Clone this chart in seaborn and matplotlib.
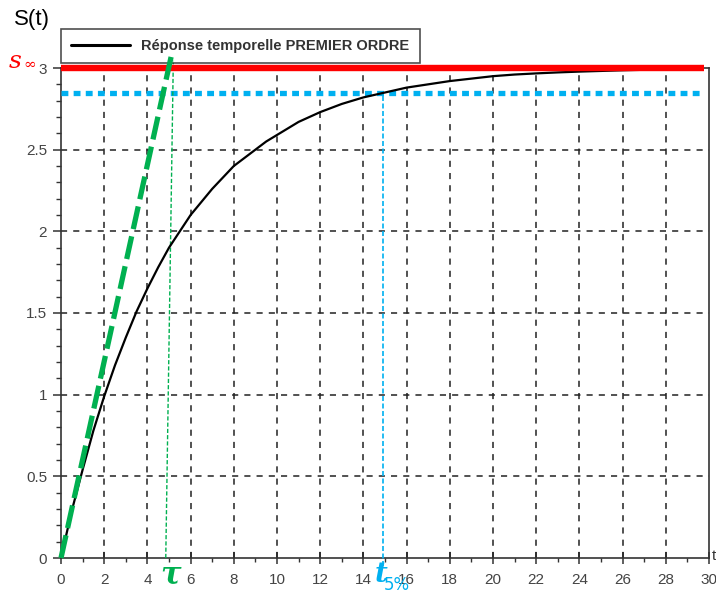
import numpy as np
import pandas as pd
import matplotlib
matplotlib.use("Agg")
import matplotlib.pyplot as plt
import seaborn as sns
from matplotlib.ticker import MultipleLocator

# ---- data ----
t_values = [0, 0.5, 1, 1.5, 2, 2.5, 3, 3.5, 4, 4.5, 5, 5.5, 6, 6.5, 7, 7.5, 8, 8.5,
            9, 9.5, 10, 10.5, 11, 11.5, 12, 12.5, 13, 13.5, 14, 15, 16, 17, 18, 19,
            20, 21, 22, 23, 24, 25, 26, 27, 28, 29, 29.6]
s_values = [0, 0.29, 0.54, 0.78, 0.99, 1.18, 1.35, 1.51, 1.65, 1.78, 1.90, 2.00, 2.10,
            2.18, 2.26, 2.33, 2.40, 2.45, 2.50, 2.55, 2.59, 2.63, 2.67, 2.70, 2.73,
            2.755, 2.78, 2.80, 2.82, 2.85, 2.88, 2.90, 2.92, 2.935, 2.95, 2.96,
            2.967, 2.973, 2.978, 2.982, 2.986, 2.989, 2.991, 2.993, 2.995]
s_inf = 3.0
s_95 = 2.85
tau = 5.0
t5 = 14.9
tangent_t = [0, 5.15]
tangent_s = [0, 3.1]
legend_label = "Réponse temporelle PREMIER ORDRE"
x_ticks = list(range(0, 31, 2))
y_ticks = [0, 0.5, 1, 1.5, 2, 2.5, 3]

df = pd.DataFrame({"t": t_values, "S": s_values})

sns.set_style("white")
plt.rcParams["font.family"] = ["Liberation Sans", "DejaVu Sans"]

W, H = 716, 592
fig = plt.figure(figsize=(W / 100, H / 100), dpi=100)
ax = fig.add_axes([61 / W, (H - 558) / H, 648 / W, 490 / H])

GREEN = "#00B050"
CYAN = "#00B0F0"
RED = "#FF0000"
GREY = "#333333"

ax.set_xlim(0, 30)
ax.set_ylim(0, 3)

# grid
for xv in x_ticks[1:-1]:
    ax.axvline(xv, color="#222222", lw=1.1, dashes=(4, 4), zorder=1)
for yv in y_ticks[1:-1]:
    ax.axhline(yv, color="#222222", lw=1.1, dashes=(4, 4), zorder=1)

# main curve
sns.lineplot(data=df, x="t", y="S", ax=ax, color="black", lw=1.6,
             label=legend_label, zorder=4)

# red asymptote
ax.plot([0, 29.75], [s_inf, s_inf], color=RED, lw=4.6, zorder=5,
        solid_capstyle="butt", clip_on=False)
# cyan 95% line
ax.plot([0, 29.75], [s_95, s_95], color=CYAN, lw=3.8, dashes=(1.3, 1.0), zorder=3)
# cyan vertical t5%
ax.plot([t5, t5], [-0.05, s_95], color=CYAN, lw=1.2, dashes=(3, 1.5),
        zorder=3, clip_on=False)
# green vertical tau
ax.plot([4.85, 5.2], [0, 3.05], color=GREEN, lw=1.0, dashes=(3, 1.5),
        zorder=3, clip_on=False)
# green tangent
ax.plot(tangent_t, tangent_s, color=GREEN, lw=3.8, dashes=(4.4, 1.4),
        zorder=6, clip_on=False, solid_capstyle="butt")

# ticks
ax.set_xticks(x_ticks)
ax.set_yticks(y_ticks)
ax.set_yticklabels(["0", "0.5", "1", "1.5", "2", "2.5", "3"])
ax.xaxis.set_minor_locator(MultipleLocator(1))
ax.yaxis.set_minor_locator(MultipleLocator(0.1))
ax.tick_params(axis="x", which="major", direction="inout", length=9, width=1.1,
               colors=GREY, labelsize=11, pad=6, bottom=True)
ax.tick_params(axis="x", which="minor", direction="out", length=3, width=1.0,
               colors=GREY, bottom=True)
ax.tick_params(axis="y", which="major", direction="out", length=6, width=1.1,
               colors=GREY, labelsize=11, pad=4, left=True)
ax.tick_params(axis="y", which="minor", direction="out", length=3.5, width=1.0,
               colors=GREY, left=True)
for lab in ax.get_xticklabels() + ax.get_yticklabels():
    lab.set_color("#444444")

for sp in ["left", "bottom", "right", "top"]:
    ax.spines[sp].set_color(GREY)
    ax.spines[sp].set_linewidth(1.2)
    ax.spines[sp].set_visible(True)
ax.set_xlabel("")
ax.set_ylabel("")

# legend
leg = ax.legend(loc="lower left", bbox_to_anchor=(0, 1.01), borderaxespad=0,
                frameon=True, fancybox=False, edgecolor="#222222",
                prop={"size": 10.5, "weight": "bold"}, handlelength=4.0,
                borderpad=0.7, handletextpad=0.8)
leg.get_frame().set_linewidth(1.2)
for txt in leg.get_texts():
    txt.set_color("#333333")
leg.get_lines()[0].set_linewidth(2.2)

# annotations
fig.text(14 / W, 1 - 19 / H, "S(t)", fontsize=16, color="black",
         ha="left", va="center")
fig.text(15 / W, 1 - 61 / H, "s", fontsize=18, color=RED, family="DejaVu Serif",
         style="italic", ha="center", va="center")
fig.text(30 / W, 1 - 65 / H, "∞", fontsize=11, color=RED, family="DejaVu Serif",
         ha="center", va="center")
fig.text(712 / W, 1 - 556 / H, "t", fontsize=11, color=GREY,
         ha="left", va="center")
fig.text(170 / W, 1 - 575 / H, "τ", fontsize=22, color=GREEN, family="DejaVu Serif",
         style="italic", weight="bold", ha="center", va="center")
fig.text(381 / W, 1 - 575 / H, "t", fontsize=20, color=CYAN, family="DejaVu Serif",
         style="italic", weight="bold", ha="center", va="center")
fig.text(397 / W, 1 - 585 / H, "5%", fontsize=12, color=CYAN,
         family="DejaVu Sans", ha="center", va="center")

fig.savefig("out.png", dpi=100, facecolor="white")
